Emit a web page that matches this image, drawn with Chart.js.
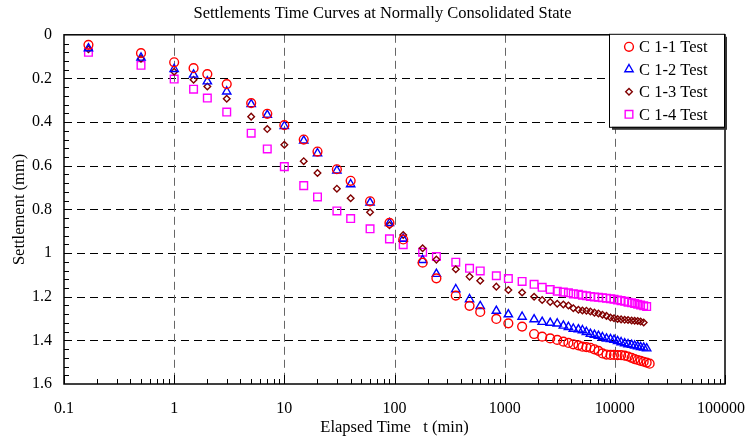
<!DOCTYPE html>
<html><head><meta charset="utf-8">
<script src="https://cdn.jsdelivr.net/npm/chart.js@4/dist/chart.umd.min.js"></script>
<style>html,body{margin:0;padding:0;background:#fff;}#wrap{width:747px;height:438px;}</style>
</head><body><div id="wrap"><canvas id="c" width="747" height="438"></canvas></div>
<script>
const chartTitle = 'Settlements Time Curves at Normally Consolidated State';
const xTitle = 'Elapsed Time   t (min)';
const yTitle = 'Settlement (mm)';
const seriesNames = ['C 1-1 Test', 'C 1-2 Test', 'C 1-3 Test', 'C 1-4 Test'];

// elapsed time (min)
const times = [0.1667, 0.5, 1, 1.5, 2, 3, 5, 7, 10, 15, 20, 30, 40, 60, 90, 120, 180, 240, 360, 480, 600, 840, 1080, 1440,
  1850, 2190, 2590, 3000, 3410, 3790, 4200, 4670, 5080, 5520, 6000, 6530, 7100, 7720, 8400, 9130, 9830, 10590,
  11400, 12280, 13180, 14200, 15130, 16120, 17140, 18280, 19450, 20700];

// settlement (mm)
const c11 = [0.046, 0.084, 0.126, 0.153, 0.180, 0.226, 0.313, 0.362, 0.414, 0.480, 0.535, 0.616, 0.669, 0.763, 0.862, 0.938, 1.044, 1.116, 1.195, 1.242, 1.270, 1.302, 1.322, 1.337,
  1.371, 1.383, 1.391, 1.398, 1.406, 1.412, 1.418, 1.423, 1.429, 1.431, 1.434, 1.441, 1.448, 1.460, 1.465, 1.467, 1.467, 1.468,
  1.468, 1.470, 1.474, 1.480, 1.486, 1.490, 1.494, 1.498, 1.502, 1.507];
const c12 = [0.062, 0.105, 0.157, 0.183, 0.214, 0.260, 0.318, 0.367, 0.418, 0.485, 0.543, 0.622, 0.685, 0.769, 0.863, 0.935, 1.032, 1.096, 1.166, 1.212, 1.243, 1.265, 1.281, 1.292,
  1.304, 1.316, 1.320, 1.323, 1.333, 1.339, 1.347, 1.350, 1.354, 1.362, 1.371, 1.375, 1.380, 1.386, 1.392, 1.395, 1.398, 1.404,
  1.409, 1.414, 1.418, 1.421, 1.424, 1.428, 1.431, 1.434, 1.437, null];
const c13 = [0.066, 0.110, 0.169, 0.206, 0.237, 0.293, 0.375, 0.432, 0.504, 0.579, 0.633, 0.705, 0.749, 0.813, 0.873, 0.917, 0.978, 1.030, 1.074, 1.108, 1.127, 1.154, 1.169, 1.181,
  1.200, 1.215, 1.224, 1.232, 1.236, 1.240, 1.253, 1.260, 1.263, 1.264, 1.268, 1.273, 1.277, 1.283, 1.288, 1.295, 1.299, 1.302,
  1.304, 1.306, 1.307, 1.309, 1.310, 1.311, 1.314, 1.318, null, null];
const c14 = [0.080, 0.140, 0.203, 0.249, 0.290, 0.354, 0.451, 0.523, 0.604, 0.691, 0.743, 0.807, 0.842, 0.889, 0.935, 0.962, 0.996, 1.016, 1.042, 1.070, 1.082, 1.104, 1.117, 1.130,
  1.143, 1.157, 1.167, 1.175, 1.179, 1.182, 1.187, 1.189, 1.193, 1.196, 1.199, 1.201, 1.203, 1.205, 1.207, 1.209, 1.212, 1.215,
  1.218, 1.221, 1.225, 1.228, 1.231, 1.235, 1.238, 1.241, 1.245, null];

const xTickValues = [0.1, 1, 10, 100, 1000, 10000, 100000];
const xTickLabels = ['0.1', '1', '10', '100', '1000', '10000', '100000'];
const yTickValues = [0, 0.2, 0.4, 0.6, 0.8, 1.0, 1.2, 1.4, 1.6];
const yTickLabels = ['0', '0.2', '0.4', '0.6', '0.8', '1', '1.2', '1.4', '1.6'];

const FONT = 'Liberation Serif, Times New Roman, serif';

function pts(arr) {
  return times.map((t, i) => ({x: t, y: arr[i]})).filter(p => p.y !== null);
}

const styles = [
  {color: '#FF0000', style: 'circle', r: 4.4, bw: 1.4},
  {color: '#0000FF', style: 'triangle', r: 4.8, bw: 1.4},
  {color: '#800000', style: 'rectRot', r: 3.3, bw: 1.4},
  {color: '#FF00FF', style: 'rect', r: 5.4, bw: 1.4}
];
const seriesData = [c11, c12, c13, c14];

const datasets = seriesData.map((arr, i) => ({
  label: seriesNames[i],
  data: pts(arr),
  showLine: false,
  pointStyle: styles[i].style,
  pointRadius: styles[i].r,
  pointHoverRadius: styles[i].r,
  pointBorderWidth: styles[i].bw,
  borderColor: styles[i].color,
  pointBorderColor: styles[i].color,
  backgroundColor: 'rgba(0,0,0,0)',
  pointBackgroundColor: 'rgba(0,0,0,0)'
}));

const framePlugin = {
  id: 'frame',
  afterLayout(chart) {
    // centre the title where the original places it
    if (chart.titleBlock) { chart.titleBlock.left = 40; chart.titleBlock.right = chart.chartArea.right; }
  },
  beforeDatasetsDraw(chart) {
    const {ctx, chartArea: a, scales: {x, y}} = chart;
    ctx.save();
    ctx.lineWidth = 1;
    ctx.setLineDash([8, 5]);
    ctx.strokeStyle = '#000';
    yTickValues.forEach(v => {
      if (v <= 0 || v >= 1.6) return;
      const py = Math.round(y.getPixelForValue(v)) + 0.5;
      ctx.beginPath(); ctx.moveTo(a.left, py); ctx.lineTo(a.right, py); ctx.stroke();
    });
    ctx.strokeStyle = '#666';
    xTickValues.forEach(v => {
      if (v <= 0.1 || v >= 100000) return;
      const px = Math.round(x.getPixelForValue(v)) + 0.5;
      ctx.beginPath(); ctx.moveTo(px, a.top); ctx.lineTo(px, a.bottom); ctx.stroke();
    });
    ctx.setLineDash([]);
    ctx.strokeStyle = '#000';
    ctx.lineWidth = 1;
    // x minor/major ticks (inward from bottom)
    for (let d = 0; d < xTickValues.length; d++) {
      const base = xTickValues[d];
      const px = Math.round(x.getPixelForValue(base)) + 0.5;
      ctx.beginPath(); ctx.moveTo(px, a.bottom); ctx.lineTo(px, a.bottom - 9); ctx.stroke();
      if (d === xTickValues.length - 1) break;
      for (let m = 2; m <= 9; m++) {
        const qx = Math.round(x.getPixelForValue(base * m)) + 0.5;
        ctx.beginPath(); ctx.moveTo(qx, a.bottom); ctx.lineTo(qx, a.bottom - 5); ctx.stroke();
      }
    }
    // y minor ticks (inward from left)
    for (let k = 1; k < 40; k++) {
      const py = Math.round(y.getPixelForValue(k * 0.04)) + 0.5;
      ctx.beginPath(); ctx.moveTo(a.left, py); ctx.lineTo(a.left + 5, py); ctx.stroke();
    }
    ctx.lineWidth = 1.5;
    ctx.strokeRect(a.left, a.top, a.right - a.left, a.bottom - a.top);
    ctx.restore();
  },
  afterDraw(chart) {
    const {ctx, chartArea: a} = chart;
    const w = 115, h = 93;
    const bx = a.right - w - 1, by = a.top - 1;
    ctx.save();
    ctx.fillStyle = '#333';
    ctx.fillRect(bx + 3, by + 3, w, h);
    ctx.fillStyle = '#fff';
    ctx.fillRect(bx, by, w, h);
    ctx.strokeStyle = '#000';
    ctx.lineWidth = 1;
    ctx.strokeRect(bx + 0.5, by + 0.5, w, h);
    const rows = [13, 35.5, 58, 80.5];
    ctx.font = '16.5px ' + FONT;
    ctx.fillStyle = '#000';
    ctx.textBaseline = 'middle';
    ctx.textAlign = 'left';
    seriesNames.forEach((name, i) => {
      const my = by + rows[i];
      const s = styles[i];
      ctx.strokeStyle = s.color;
      ctx.fillStyle = 'rgba(0,0,0,0)';
      ctx.lineWidth = s.bw;
      Chart.helpers.drawPoint(ctx, {pointStyle: s.style, radius: s.r, borderWidth: s.bw, rotation: 0}, bx + 20, my);
      ctx.fillStyle = '#000';
      ctx.fillText(name, bx + 30, my + 1);
    });
    ctx.restore();
  }
};

new Chart(document.getElementById('c'), {
  type: 'scatter',
  data: {datasets},
  plugins: [framePlugin],
  options: {
    responsive: false,
    animation: false,
    devicePixelRatio: 1,
    layout: {padding: {left: 0, right: 22, top: 0, bottom: 0}},
    plugins: {
      legend: {display: false},
      tooltip: {enabled: false},
      title: {
        display: true, text: chartTitle, color: '#000',
        font: {family: FONT, size: 16.5, weight: 'normal'},
        padding: {top: 4, bottom: 11}
      }
    },
    scales: {
      x: {
        type: 'logarithmic', min: 0.1, max: 100000,
        afterBuildTicks: s => { s.ticks = xTickValues.map(v => ({value: v})); },
        afterFit: s => { s.height = 54; s.paddingLeft = 0; s.paddingRight = 0; },
        grid: {display: false, drawTicks: false},
        border: {display: false},
        ticks: {
          autoSkip: false, maxRotation: 0, padding: 15, color: '#000',
          font: {family: FONT, size: 16},
          callback: (v, i) => (i === xTickLabels.length - 1 ? xTickLabels[i] + '  ' : xTickLabels[i])
        },
        title: {display: true, text: xTitle, color: '#000', font: {family: FONT, size: 16.5}, padding: {top: 0, bottom: 0}}
      },
      y: {
        type: 'linear', reverse: true, min: 0, max: 1.6,
        afterBuildTicks: s => { s.ticks = yTickValues.map(v => ({value: v})); },
        afterFit: s => { s.width = 64; s.paddingTop = 0; s.paddingBottom = 0; },
        grid: {display: false, drawTicks: false},
        border: {display: false},
        ticks: {
          padding: 12, color: '#000',
          font: {family: FONT, size: 16},
          callback: (v, i) => yTickLabels[i]
        },
        title: {display: true, text: yTitle, color: '#000', font: {family: FONT, size: 16.5}, padding: {top: 10, bottom: 0}}
      }
    }
  }
});
</script>
</body></html>
